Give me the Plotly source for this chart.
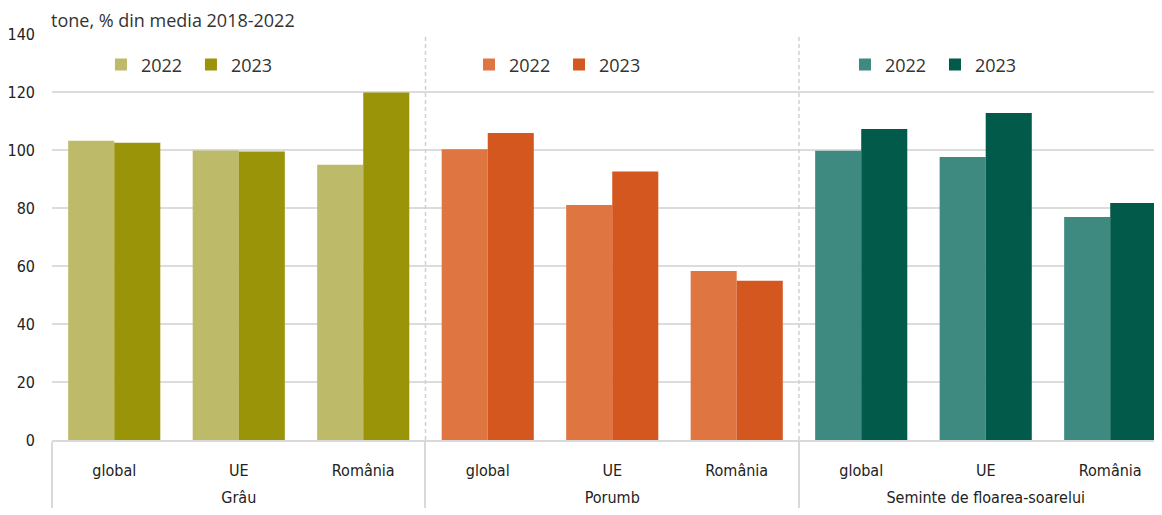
import plotly.graph_objects as go

groups = ["Grâu", "Porumb", "Seminte de floarea-soarelui"]
regions = ["global", "UE", "România"]
v2022 = {
    "Grâu": [103.2, 99.8, 94.9],
    "Porumb": [100.3, 81.0, 58.3],
    "Seminte de floarea-soarelui": [99.7, 97.6, 76.9],
}
v2023 = {
    "Grâu": [102.5, 99.5, 119.8],
    "Porumb": [105.9, 92.6, 54.9],
    "Seminte de floarea-soarelui": [107.2, 112.8, 81.7],
}
colors2022 = ["#BDBA69", "#DF7642", "#3F8A80"]
colors2023 = ["#9A9409", "#D55720", "#025A4A"]
legend_names = ["legend", "legend2", "legend3"]
years = ["2022", "2023"]

fig = go.Figure()
for i, g in enumerate(groups):
    # leading line break lowers the group label row
    x = [["<br>" + g] * len(regions), regions]
    fig.add_trace(go.Bar(x=x, y=v2022[g], name=years[0], marker_color=colors2022[i],
                         marker_line_width=0, offsetgroup="a", legend=legend_names[i]))
    fig.add_trace(go.Bar(x=x, y=v2023[g], name=years[1], marker_color=colors2023[i],
                         marker_line_width=0, offsetgroup="b", legend=legend_names[i]))

label_font = dict(family="DejaVu Sans Condensed, Liberation Sans Narrow, sans-serif",
                  size=16, color="#222222")
leg_font = dict(family="Open Sans, Noto Sans, sans-serif", size=18, color="#333333")

def leg(x):
    return dict(orientation="h", x=x, y=0.924, xanchor="left", yanchor="middle",
                font=leg_font, bgcolor="rgba(0,0,0,0)", entrywidth=45,
                itemclick=False, itemdoubleclick=False, traceorder="normal")

# the reference crops the plot on the right: last category is partly cut
x_range = [-0.5, 8.416]
span = x_range[1] - x_range[0]
sep_fracs = [(k * len(regions) - 0.5 - x_range[0]) / span for k in (1, 2)]

# page body has an 8px margin; figure sized/margined so the plot area lands in place
fig.update_layout(
    width=1154, height=507,
    margin=dict(l=44, r=0, t=26, b=75),
    paper_bgcolor="white", plot_bgcolor="white",
    barmode="group", bargap=0.26, bargroupgap=0,
    showlegend=True,
    legend=leg(0.0441), legend2=leg(0.3757), legend3=leg(0.7144),
    xaxis=dict(type="multicategory", tickfont=label_font, showline=True,
               linecolor="#d9d9d9", linewidth=1.5, showgrid=False,
               dividercolor="#d9d9d9", dividerwidth=1.5, range=x_range,
               ticklabelstandoff=15),
    yaxis=dict(range=[0, 140], dtick=20, tickfont=label_font, showgrid=True,
               gridcolor="#dcdcdc", gridwidth=1.5, zeroline=False, showline=False,
               ticklabelstandoff=16),
    annotations=[dict(text="tone, % din media 2018-2022", xref="paper", yref="paper",
                      x=0, y=1.0, xanchor="left", yanchor="bottom", showarrow=False,
                      xshift=-3,
                      font=dict(family="Open Sans, Noto Sans, sans-serif", size=18, color="#333333"))],
    shapes=[dict(type="line", xref="paper", yref="paper", x0=f, x1=f, y0=0, y1=1,
                 line=dict(color="#d0d0d0", width=1.5, dash="4px,3px")) for f in sep_fracs],
)

fig.write_html("out.html")
